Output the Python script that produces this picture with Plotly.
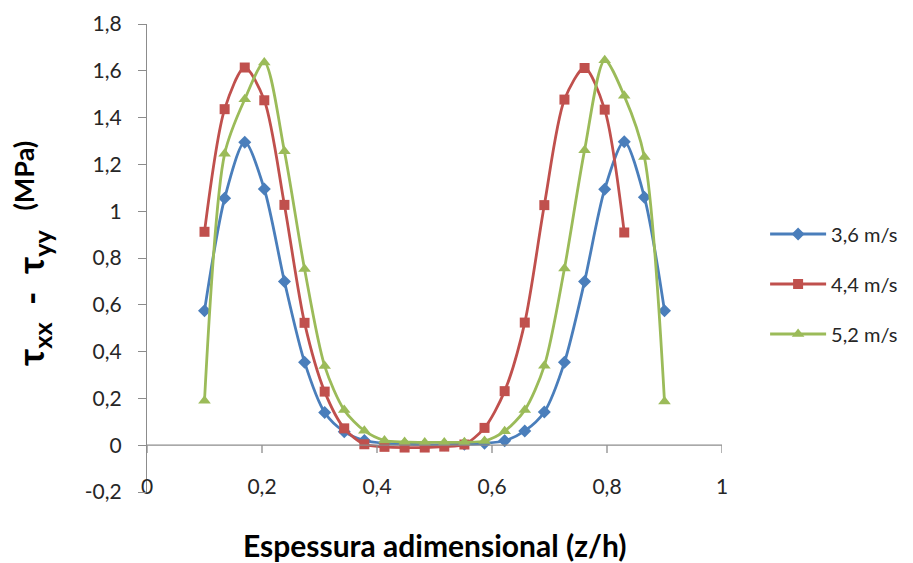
import plotly.graph_objects as go

# Dimensionless thickness positions (z/h)
x_36 = [0.100, 0.135, 0.170, 0.204, 0.239, 0.274, 0.309, 0.343, 0.378, 0.413, 0.448, 0.483,
        0.517, 0.552, 0.587, 0.622, 0.657, 0.691, 0.726, 0.761, 0.796, 0.830, 0.865, 0.900]
x_44 = [0.100, 0.135, 0.170, 0.204, 0.239, 0.274, 0.309, 0.343, 0.378, 0.413, 0.448,
        0.483, 0.517, 0.552, 0.587, 0.622, 0.657, 0.691, 0.726, 0.761, 0.796, 0.830]
x_52 = x_36

# First normal stress difference tau_xx - tau_yy (MPa)
y_36 = [0.575, 1.055, 1.295, 1.095, 0.700, 0.355, 0.140, 0.058, 0.020, 0.008, 0.004, 0.002,
        0.002, 0.004, 0.008, 0.019, 0.061, 0.142, 0.354, 0.700, 1.094, 1.297, 1.060, 0.575]
y_44 = [0.912, 1.436, 1.614, 1.474, 1.027, 0.523, 0.229, 0.072, 0.004, -0.007, -0.010,
        -0.010, -0.006, 0.003, 0.074, 0.231, 0.524, 1.026, 1.477, 1.612, 1.434, 0.909]
y_52 = [0.190, 1.245, 1.478, 1.636, 1.256, 0.753, 0.338, 0.150, 0.062, 0.020, 0.014, 0.012,
        0.012, 0.013, 0.018, 0.060, 0.150, 0.339, 0.755, 1.261, 1.645, 1.493, 1.232, 0.187]

series_names = ["3,6 m/s", "4,4 m/s", "5,2 m/s"]
colors = ["#4A7EBB", "#C0504D", "#9BBB59"]
symbols = ["diamond", "square", "triangle-up"]
sizes = [10, 10, 11]

x_ticks = [0, 0.2, 0.4, 0.6, 0.8, 1.0]
x_ticktext = ["0", "0,2", "0,4", "0,6", "0,8", "1"]
y_ticks = [-0.2, 0, 0.2, 0.4, 0.6, 0.8, 1.0, 1.2, 1.4, 1.6, 1.8]
y_ticktext = ["-0,2", "0", "0,2", "0,4", "0,6", "0,8", "1", "1,2", "1,4", "1,6", "1,8"]

FONT = "Lato"
TXT = "#262626"
AXIS = "#8C8C8C"

fig = go.Figure()
for xs, ys, name, c, sym, sz in zip([x_36, x_44, x_52], [y_36, y_44, y_52],
                                    series_names, colors, symbols, sizes):
    fig.add_trace(go.Scatter(
        x=xs, y=ys, name=name, legendgroup=name, mode="lines+markers",
        line=dict(color=c, width=2.8, shape="spline", smoothing=0.8),
        marker=dict(symbol=sym, size=sz, color=c),
    ))

# Horizontal axis line drawn at y = 0 with downward ticks
shapes = [dict(type="line", xref="x", yref="y", x0=0, x1=1, y0=0, y1=0,
               line=dict(color=AXIS, width=1.3))]
for t in x_ticks:
    shapes.append(dict(type="line", xref="x", yref="y", x0=t, x1=t, y0=0, y1=-0.033,
                       line=dict(color=AXIS, width=1.3)))

fig.update_layout(
    width=913, height=563,
    margin=dict(l=147, r=191, t=24, b=71, autoexpand=False),
    paper_bgcolor="white", plot_bgcolor="white",
    font=dict(family=FONT, size=21, color=TXT),
    shapes=shapes,
    showlegend=True,
    legend=dict(xref="container", yref="container", x=0.838, y=0.4956,
                xanchor="left", yanchor="middle",
                font=dict(family=FONT, size=20, color=TXT),
                bgcolor="rgba(0,0,0,0)", tracegroupgap=21, itemwidth=56),
    xaxis=dict(range=[0, 1], tickvals=x_ticks, ticktext=x_ticktext,
               showgrid=False, zeroline=False, showline=False, ticks="",
               ticklabelstandoff=-20, tickfont=dict(size=21, color=TXT)),
    yaxis=dict(range=[-0.2, 1.8], tickvals=y_ticks, ticktext=y_ticktext,
               showgrid=False, zeroline=False, showline=True, linecolor=AXIS,
               linewidth=1.3, ticks="outside", ticklen=8, tickcolor=AXIS,
               ticklabelstandoff=12, tickfont=dict(size=21, color=TXT)),
    annotations=[
        dict(text="<b>Espessura adimensional (z/h)</b>", xref="paper", yref="paper",
             x=0.5, y=-0.113, xanchor="center", yanchor="middle", showarrow=False,
             font=dict(family=FONT, size=30, color="#000000")),
        dict(text="<b>τ<sub>xx</sub> &nbsp;-&nbsp; τ<sub>yy</sub></b>", xref="paper",
             yref="paper", x=-0.198, y=0.415, xanchor="center", yanchor="middle",
             showarrow=False, textangle=-90,
             font=dict(family=FONT, size=36, color="#000000")),
        dict(text="<b>(MPa)</b>", xref="paper", yref="paper",
             x=-0.214, y=0.676, xanchor="center", yanchor="middle", showarrow=False,
             textangle=-90, font=dict(family=FONT, size=27, color="#000000")),
    ],
)

fig.write_html("out.html")
